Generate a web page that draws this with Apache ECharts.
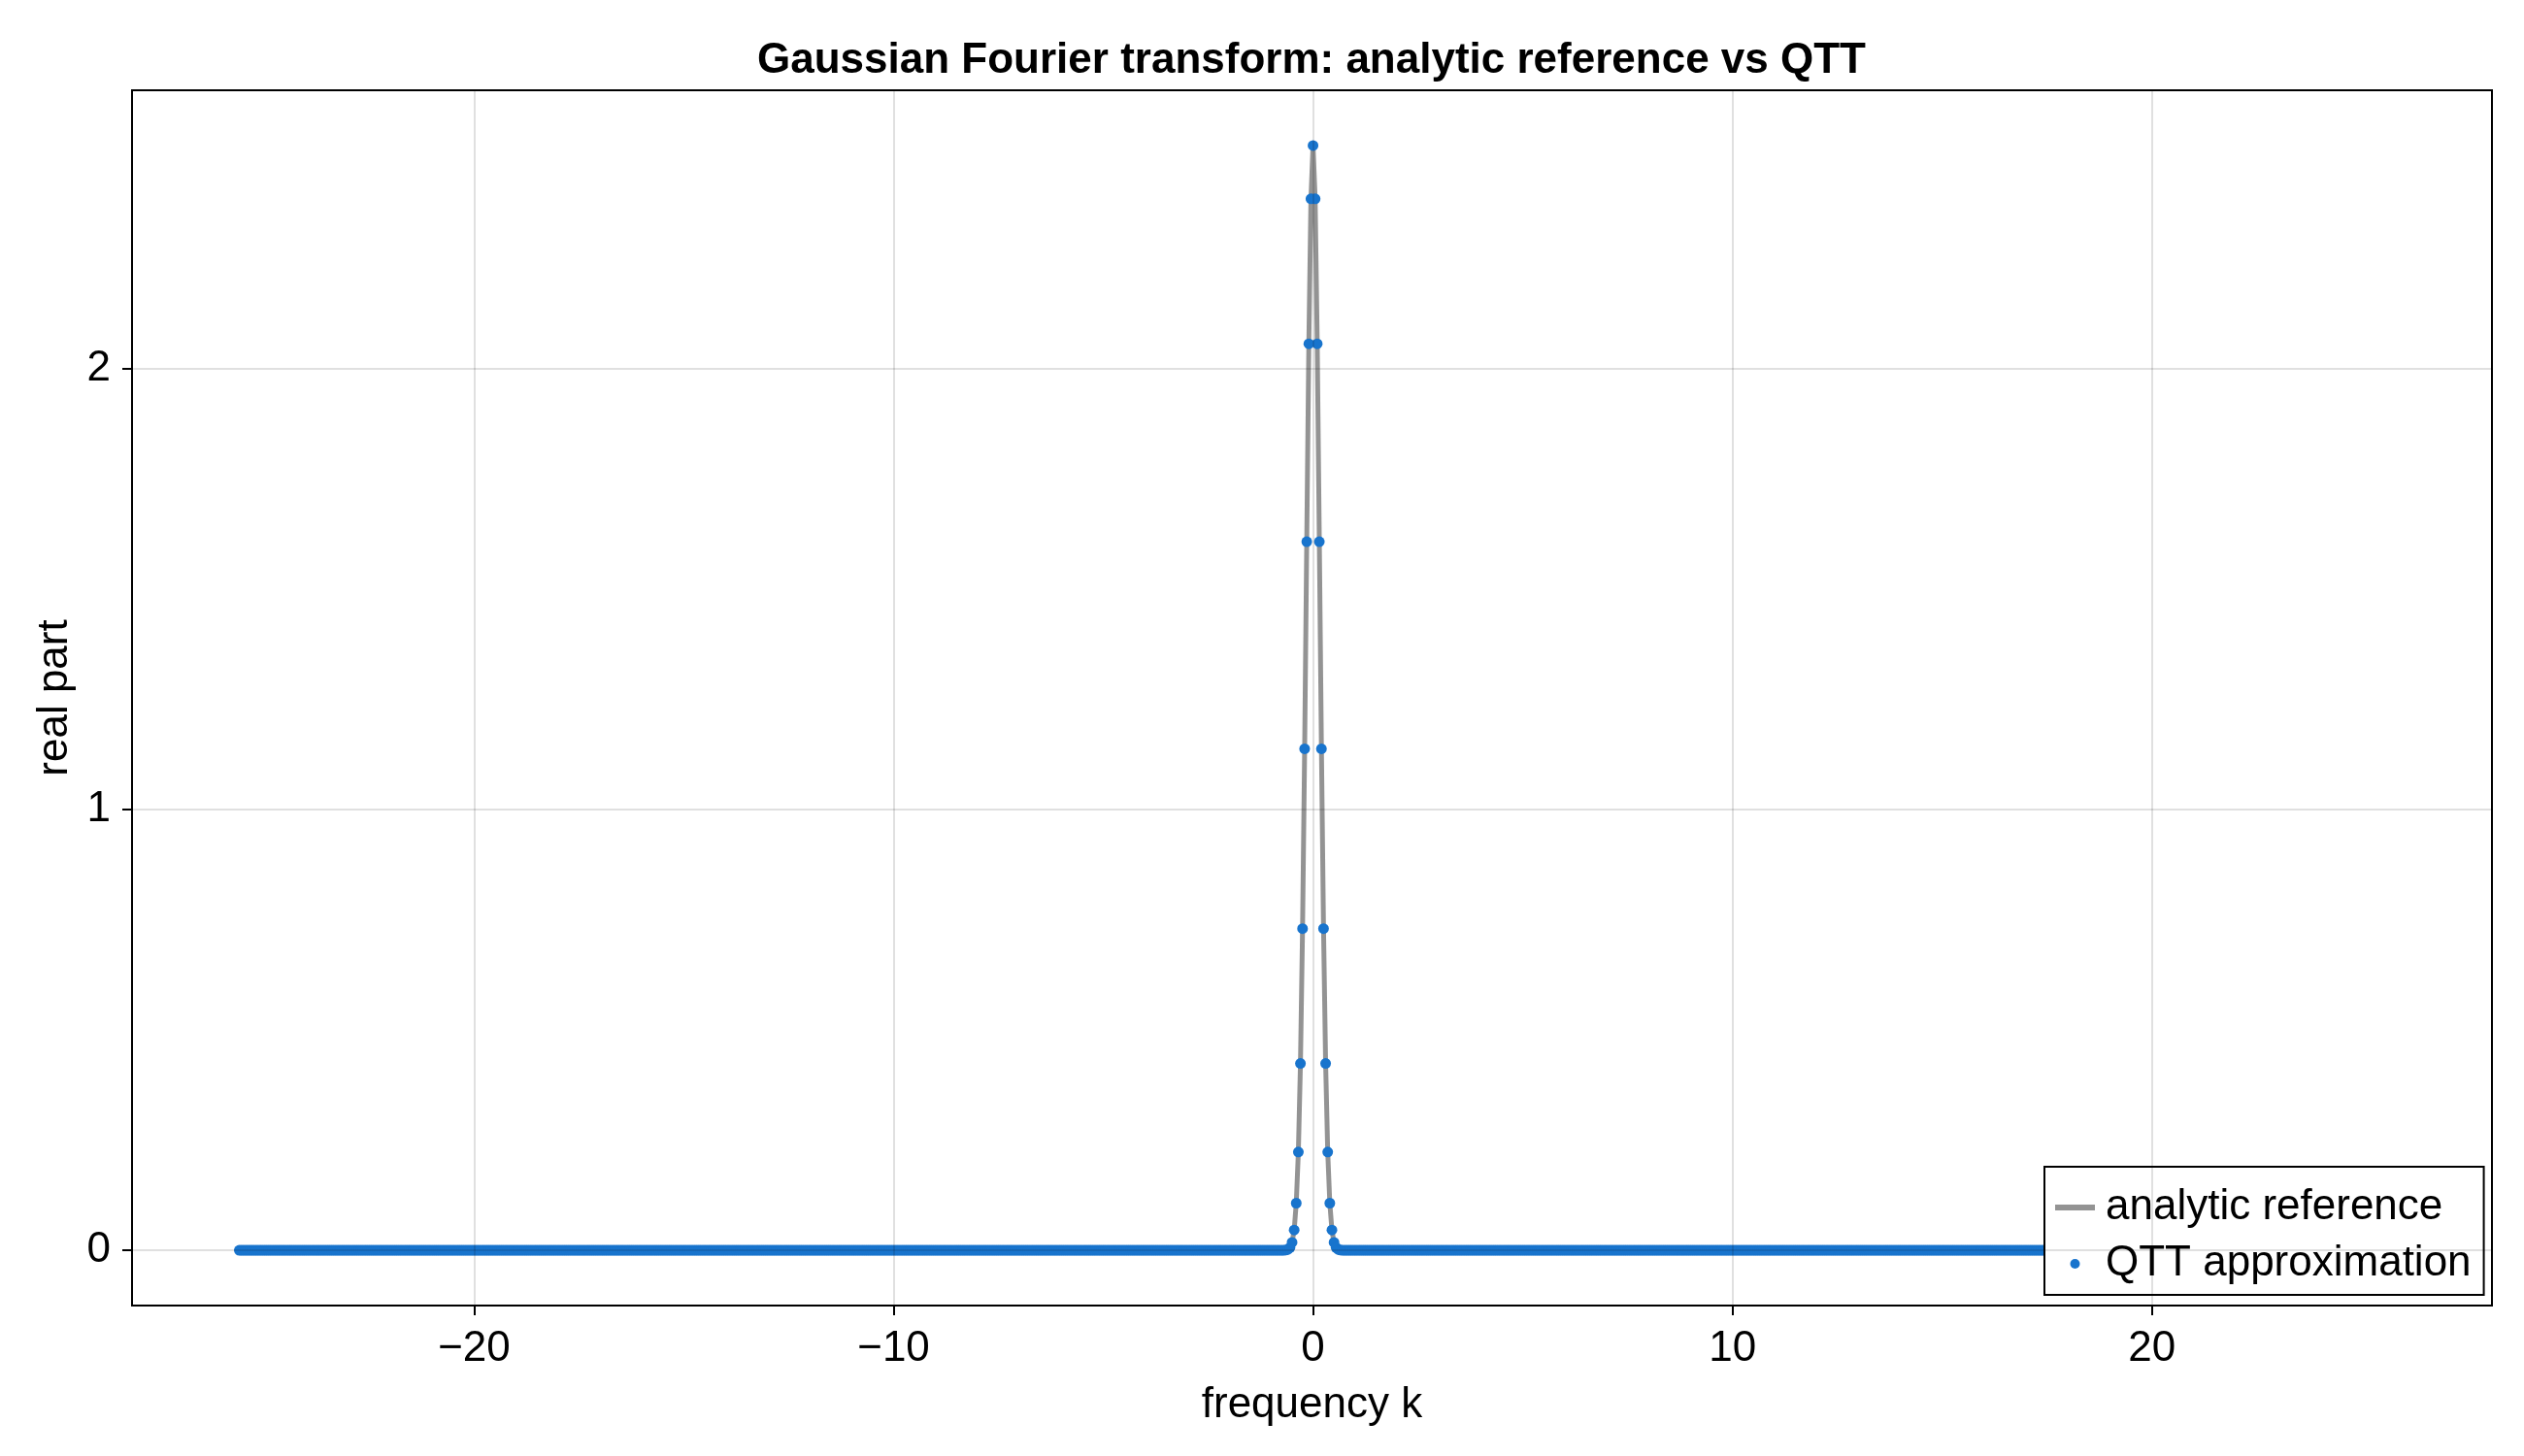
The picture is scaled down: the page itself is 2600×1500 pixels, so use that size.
<!DOCTYPE html>
<html>
<head>
<meta charset="utf-8">
<script src="https://cdn.jsdelivr.net/npm/echarts@6/dist/echarts.min.js"></script>
<style>
html,body{margin:0;padding:0;background:#fff;}
#chart{width:2600px;height:1500px;}
</style>
</head>
<body>
<div id="chart"></div>
<script>
// ---- data ----
const kMin = -25.6;          // first frequency sample
const kStep = 0.05;          // sample spacing
const nSamples = 1024;       // number of samples
const peakK = [-0.65,-0.6,-0.55,-0.5,-0.45,-0.4,-0.35,-0.3,-0.25,-0.2,-0.15,-0.1,-0.05,0,
               0.05,0.1,0.15,0.2,0.25,0.3,0.35,0.4,0.45,0.5,0.55,0.6,0.65];
const peakValues = [0.0005,0.002,0.006,0.018,0.046,0.107,0.223,0.424,0.730,1.138,1.608,2.057,2.386,2.507,
                    2.386,2.057,1.608,1.138,0.730,0.424,0.223,0.107,0.046,0.018,0.006,0.002,0.0005];
const baselineValue = 0;     // everything outside the peak sits on zero
const xTicks = [-20, -10, 0, 10, 20];
const yTicks = [0, 1, 2];
const seriesNames = ['analytic reference', 'QTT approximation'];

// ---- build point list ----
const points = [];
for (let i = 0; i < nSamples; i++) {
  const k = +(kMin + i * kStep).toFixed(2);
  const idx = peakK.indexOf(k);
  points.push([k, idx >= 0 ? peakValues[idx] : baselineValue]);
}
const kLast = points[points.length - 1][0];
const kPad = (kLast - kMin) * 0.05;
const vMax = Math.max.apply(null, peakValues);
const vPad = (vMax - baselineValue) * 0.05;

const FONT = '"Liberation Sans", Arial, Helvetica, sans-serif';
const minus = v => String(v).replace('-', '\u2212');
const GRAY = 'rgba(128,128,128,0.85)';

const chart = echarts.init(document.getElementById('chart'), null, {renderer: 'canvas'});
chart.setOption({
  animation: false,
  backgroundColor: '#ffffff',
  textStyle: {fontFamily: FONT},
  title: {
    text: 'Gaussian Fourier transform: analytic reference vs QTT',
    left: 1351, top: 41, textAlign: 'center', padding: 0,
    textStyle: {fontFamily: FONT, fontWeight: 'bold', fontSize: 44, color: '#000'}
  },
  grid: {
    left: 136, top: 93, width: 2431, height: 1252,
    show: true, borderColor: '#000', borderWidth: 2, backgroundColor: 'transparent'
  },
  xAxis: {
    type: 'value', min: kMin - kPad, max: kLast + kPad,
    name: 'frequency k', nameLocation: 'middle', nameGap: 81,
    nameTextStyle: {fontFamily: FONT, fontSize: 44, color: '#000'},
    axisLine: {show: true, onZero: false, lineStyle: {color: '#000', width: 2}},
    axisTick: {show: true, length: 10, customValues: xTicks, lineStyle: {color: '#000', width: 2}},
    axisLabel: {customValues: xTicks, margin: 23, fontFamily: FONT, fontSize: 44, color: '#000', formatter: minus},
    splitLine: {show: false}
  },
  yAxis: {
    type: 'value', min: baselineValue - vPad, max: vMax + vPad,
    name: 'real part', nameLocation: 'middle', nameGap: 48, nameRotate: 90,
    nameTextStyle: {fontFamily: FONT, fontSize: 44, color: '#000'},
    axisLine: {show: true, onZero: false, lineStyle: {color: '#000', width: 2}},
    axisTick: {show: true, length: 10, customValues: yTicks, lineStyle: {color: '#000', width: 2}},
    axisLabel: {customValues: yTicks, margin: 22, fontFamily: FONT, fontSize: 44, color: '#000', formatter: minus},
    splitLine: {show: false}
  },
  legend: {
    data: [
      {name: seriesNames[0], icon: 'path://M0,0 L41,0 L41,6 L0,6 Z', itemStyle: {color: GRAY}},
      {name: seriesNames[1], icon: 'circle'}
    ],
    orient: 'vertical',
    left: 2106, top: 1202,
    padding: [20, 13, 10, 11],
    itemGap: 14, itemWidth: 41, itemHeight: 10,
    symbolKeepAspect: true,
    backgroundColor: '#fff', borderColor: '#000', borderWidth: 2, borderRadius: 0,
    textStyle: {fontFamily: FONT, fontSize: 44, color: '#000', padding: [0, 0, 0, 6]}
  },
  series: [
    {
      name: 'grid', type: 'line', data: [], z: 0, silent: true,
      markLine: {
        silent: true, symbol: ['none', 'none'], label: {show: false},
        lineStyle: {color: 'rgba(0,0,0,0.12)', width: 2, type: 'solid'},
        emphasis: {disabled: true},
        data: xTicks.map(v => ({xAxis: v})).concat(yTicks.map(v => ({yAxis: v})))
      }
    },
    {
      name: seriesNames[0], type: 'line', data: points, z: 2,
      symbol: 'none', showSymbol: false,
      lineStyle: {color: GRAY, width: 5},
      itemStyle: {color: GRAY}
    },
    {
      name: seriesNames[1], type: 'scatter', data: points, z: 3,
      symbol: 'circle', symbolSize: 11, large: false,
      itemStyle: {color: '#1874CD', opacity: 1}
    }
  ]
});
</script>
</body>
</html>
